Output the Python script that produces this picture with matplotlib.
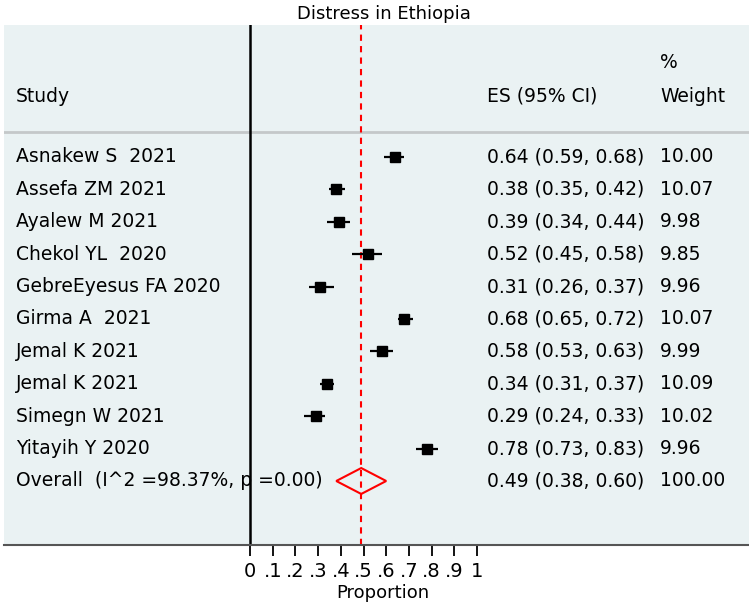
import matplotlib.pyplot as plt
from matplotlib.patches import Polygon

studies = ["Asnakew S  2021", "Assefa ZM 2021", "Ayalew M 2021", "Chekol YL  2020",
           "GebreEyesus FA 2020", "Girma A  2021", "Jemal K 2021", "Jemal K 2021",
           "Simegn W 2021", "Yitayih Y 2020"]
es = [0.64, 0.38, 0.39, 0.52, 0.31, 0.68, 0.58, 0.34, 0.29, 0.78]
lo = [0.59, 0.35, 0.34, 0.45, 0.26, 0.65, 0.53, 0.31, 0.24, 0.73]
hi = [0.68, 0.42, 0.44, 0.58, 0.37, 0.72, 0.63, 0.37, 0.33, 0.83]
weights = [10.00, 10.07, 9.98, 9.85, 9.96, 10.07, 9.99, 10.09, 10.02, 9.96]

overall_label = "Overall  (I^2 =98.37%, p =0.00)"
overall_es, overall_lo, overall_hi, overall_w = 0.49, 0.38, 0.60, 100.00

ticks = [0, 0.1, 0.2, 0.3, 0.4, 0.5, 0.6, 0.7, 0.8, 0.9, 1]
tick_labels = ["0", ".1", ".2", ".3", ".4", ".5", ".6", ".7", ".8", ".9", "1"]

bg = "#eaf2f3"
W, H = 749, 605
fig = plt.figure(figsize=(W / 100, H / 100), dpi=100)

# axes box in pixels: x 4..749, y 25..545
ax = fig.add_axes([4 / W, 1 - 545 / H, 745 / W, 520 / H])
ax.set_facecolor(bg)

px_per_unit = 227.0
x0_px = 250.0
ax.set_xlim((4 - x0_px) / px_per_unit, (749 - x0_px) / px_per_unit)
row_px = 32.4
row0_px = 157.0
ax.set_ylim((545 - row0_px) / row_px, (25 - row0_px) / row_px)

for s in ["top", "right", "left"]:
    ax.spines[s].set_visible(False)
ax.spines["bottom"].set_color("#555555")
ax.spines["bottom"].set_linewidth(1.5)
ax.set_yticks([])
ax.set_xticks(ticks)
ax.set_xticklabels(tick_labels, fontsize=14)
ax.tick_params(axis="x", length=8, width=1.3, pad=4)

# header separator and vertical reference lines
sep_y = (132 - row0_px) / row_px
ax.axhline(sep_y, color="#c4c8c9", lw=2)
ax.axvline(0, color="black", lw=1.8)
ax.axvline(overall_es, color="red", lw=1.5, ls=(0, (3, 2.5)))

n = len(studies)
rows = list(range(n))
for i in rows:
    ax.plot([lo[i], hi[i]], [i, i], color="black", lw=1.6, solid_capstyle="butt")
ax.plot(es, rows, ls="none", marker="s", ms=7.5, color="black")

# overall diamond
d = 0.4
diamond = Polygon([[overall_lo, n], [overall_es, n - d], [overall_hi, n], [overall_es, n + d]],
                  closed=True, fill=False, edgecolor="red", lw=1.5)
ax.add_patch(diamond)

# text columns (x in axes fraction)
tr = ax.get_yaxis_transform()
def fx(px):
    return (px - 4) / 745

fs = 13.5
hdr_y = (96 - row0_px) / row_px
pct_y = (62 - row0_px) / row_px
ax.text(fx(16), hdr_y, "Study", transform=tr, fontsize=fs, va="center")
ax.text(fx(487), hdr_y, "ES (95% CI)", transform=tr, fontsize=fs, va="center")
ax.text(fx(660), hdr_y, "Weight", transform=tr, fontsize=fs, va="center")
ax.text(fx(660), pct_y, "%", transform=tr, fontsize=fs, va="center")

labels = studies + [overall_label]
est = es + [overall_es]
low = lo + [overall_lo]
high = hi + [overall_hi]
wts = weights + [overall_w]
for i, lab in enumerate(labels):
    ax.text(fx(16), i, lab, transform=tr, fontsize=fs, va="center")
    ax.text(fx(487), i, f"{est[i]:.2f} ({low[i]:.2f}, {high[i]:.2f})", transform=tr,
            fontsize=fs, va="center")
    ax.text(fx(660), i, f"{wts[i]:.2f}", transform=tr, fontsize=fs, va="center")

fig.text(384 / W, 1 - 14 / H, "Distress in Ethiopia", ha="center", va="center", fontsize=13)
fig.text(383 / W, 1 - 593 / H, "Proportion", ha="center", va="center", fontsize=13)

fig.savefig("out.png", dpi=100)
